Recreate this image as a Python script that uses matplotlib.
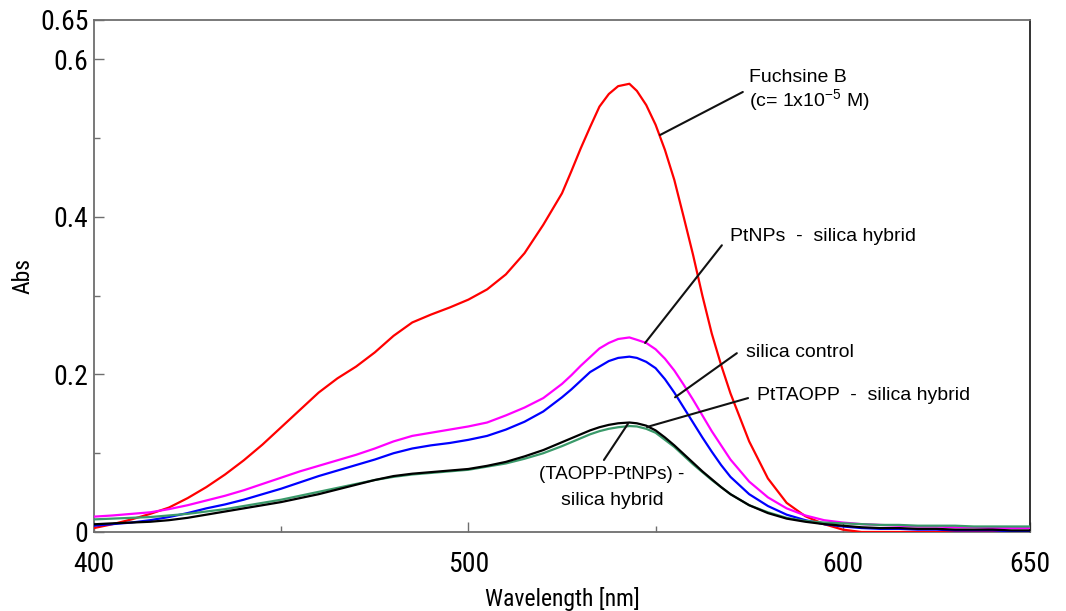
import matplotlib
matplotlib.use("Agg")
import matplotlib.pyplot as plt
from matplotlib import font_manager
from matplotlib.font_manager import FontProperties
from matplotlib.ticker import FixedLocator

# ---- data -------------------------------------------------------------
wavelength = [400, 405, 410, 415, 420, 425, 430, 435, 440, 445, 450, 455, 460,
              465, 470, 475, 480, 485, 490, 495, 500, 505, 510, 515, 520, 525,
              527.5, 530, 532.5, 535, 537.5, 540, 543, 545, 547.5, 550, 552.5,
              555, 557.5, 560, 562.5, 565, 567.5, 570,
              575, 580, 585, 590, 595, 600, 605, 610, 615, 620, 625, 630, 635,
              640, 645, 650]

fuchsine_b = [0.005, 0.010, 0.016, 0.023, 0.031, 0.043, 0.057, 0.073, 0.091,
              0.111, 0.133, 0.155, 0.177, 0.195, 0.210, 0.228, 0.249, 0.266,
              0.276, 0.285, 0.295, 0.308, 0.327, 0.354, 0.390, 0.430,
              0.458, 0.487, 0.514, 0.540, 0.556, 0.566, 0.569, 0.560, 0.542,
              0.517, 0.485, 0.447, 0.400, 0.352, 0.300, 0.252, 0.212, 0.176,
              0.115, 0.068, 0.037, 0.020, 0.010, 0.003, 0.000, 0.000, 0.000,
              0.000, 0.000, 0.000, 0.000, 0.000, 0.000, 0.000]

ptnps_silica = [0.0195, 0.021, 0.023, 0.025, 0.029, 0.034, 0.040, 0.046, 0.053,
                0.061, 0.069, 0.077, 0.084, 0.091, 0.098, 0.106, 0.115, 0.122,
                0.126, 0.130, 0.134, 0.139, 0.148, 0.158, 0.170, 0.188,
                0.199, 0.211, 0.222, 0.233, 0.240, 0.245, 0.247, 0.244, 0.240,
                0.232, 0.220, 0.205, 0.187, 0.168, 0.148, 0.128, 0.110, 0.092,
                0.064, 0.044, 0.030, 0.021, 0.015, 0.012, 0.010, 0.009, 0.008,
                0.007, 0.007, 0.006, 0.006, 0.005, 0.005, 0.005]

silica_control = [0.008, 0.010, 0.012, 0.015, 0.019, 0.024, 0.030, 0.035, 0.041,
                  0.048, 0.055, 0.063, 0.071, 0.078, 0.085, 0.092, 0.100, 0.106,
                  0.110, 0.113, 0.117, 0.122, 0.130, 0.140, 0.153, 0.171,
                  0.181, 0.192, 0.203, 0.210, 0.217, 0.221, 0.2226, 0.221, 0.216,
                  0.208, 0.194, 0.177, 0.158, 0.139, 0.120, 0.102, 0.085, 0.070,
                  0.048, 0.033, 0.022, 0.015, 0.010, 0.007, 0.005, 0.004, 0.004,
                  0.003, 0.003, 0.002, 0.002, 0.002, 0.001, 0.001]

pttaopp_silica = [0.0098, 0.011, 0.012, 0.013, 0.015, 0.018, 0.022, 0.026, 0.030,
                  0.034, 0.038, 0.043, 0.048, 0.054, 0.060, 0.066, 0.071, 0.074,
                  0.076, 0.078, 0.080, 0.084, 0.089, 0.096, 0.104, 0.114,
                  0.119, 0.124, 0.129, 0.133, 0.136, 0.138, 0.139, 0.138, 0.135,
                  0.129, 0.120, 0.110, 0.099, 0.088, 0.077, 0.067, 0.057, 0.048,
                  0.034, 0.024, 0.017, 0.013, 0.010, 0.008, 0.006, 0.005, 0.005,
                  0.004, 0.004, 0.003, 0.003, 0.003, 0.002, 0.002]

taopp_ptnps_silica = [0.016, 0.017, 0.018, 0.019, 0.021, 0.023, 0.026, 0.029,
                      0.033, 0.037, 0.041, 0.046, 0.051, 0.056, 0.061, 0.066,
                      0.070, 0.073, 0.075, 0.077, 0.079, 0.083, 0.087, 0.093,
                      0.100, 0.109,
                      0.114, 0.119, 0.124, 0.128, 0.131, 0.133, 0.1345, 0.134,
                      0.131, 0.126, 0.117, 0.108, 0.097, 0.086, 0.076, 0.066,
                      0.057, 0.048,
                      0.034, 0.025, 0.018, 0.014, 0.012, 0.011, 0.010, 0.009,
                      0.009, 0.008, 0.008, 0.008, 0.007, 0.007, 0.007, 0.007]

x_tick_values = [400, 500, 600, 650]
x_tick_labels = ["400", "500", "600", "650"]
x_minor_ticks = [450, 550]
y_tick_values = [0, 0.2, 0.4, 0.6, 0.65]
y_tick_labels = ["0", "0.2", "0.4", "0.6", "0.65"]
y_minor_ticks = [0.1, 0.3, 0.5]

# ---- fonts ------------------------------------------------------------
plt.rcParams["font.family"] = ["Liberation Sans", "DejaVu Sans"]
plt.rcParams["mathtext.fontset"] = "custom"
plt.rcParams["mathtext.rm"] = "Liberation Sans"


def find_condensed_font():
    """Return the file of an upright condensed sans face, if one is installed."""
    fonts = font_manager.fontManager.ttflist
    prefs = ["LiberationSansNarrow-Regular", "ArialNarrow", "RobotoCondensed-Regular",
             "DejaVuSansCondensed.ttf", "NotoSans-Condensed.ttf",
             "NotoSans-CondensedRegular", "OpenSans-CondensedRegular",
             "OpenSansCondensed-Regular", "Roboto_Condensed-Regular"]
    for key in prefs:
        for f in fonts:
            if key.lower() in f.fname.replace(" ", "").lower():
                return f.fname
    for f in fonts:
        low = (f.name + f.fname).lower()
        if (("narrow" in low or "condensed" in low) and f.style == "normal"
                and f.weight in (400, "normal", "regular")
                and "bold" not in f.fname.lower() and "italic" not in f.fname.lower()
                and "semi" not in f.fname.lower() and "extra" not in f.fname.lower()):
            return f.fname
    return None


cond_file = find_condensed_font()
if cond_file:
    tick_font = FontProperties(fname=cond_file, size=20)
    label_font = FontProperties(fname=cond_file, size=17)
else:
    tick_font = FontProperties(family="Liberation Sans", size=16.5)
    label_font = FontProperties(family="Liberation Sans", size=15)

# ---- figure -----------------------------------------------------------
fig = plt.figure(figsize=(10.66, 6.11), dpi=100)
ax = fig.add_axes([0.0882, 0.1293, 0.9662 - 0.0882, 0.9673 - 0.1293])

lw = 1.6
style = dict(lw=lw, zorder=3, solid_joinstyle="round", solid_capstyle="round")
ax.plot(wavelength, fuchsine_b, color="#ff0000", **style)
ax.plot(wavelength, ptnps_silica, color="#ff00ff", **style)
ax.plot(wavelength, silica_control, color="#0000ff", **style)
ax.plot(wavelength, taopp_ptnps_silica, color="#3a9a6a", **style)
ax.plot(wavelength, pttaopp_silica, color="#000000", **style)

ax.set_xlim(400, 650)
ax.set_ylim(0, 0.65)

ax.xaxis.set_major_locator(FixedLocator(x_tick_values))
ax.xaxis.set_minor_locator(FixedLocator(x_minor_ticks))
ax.yaxis.set_major_locator(FixedLocator(y_tick_values))
ax.yaxis.set_minor_locator(FixedLocator(y_minor_ticks))
ax.set_xticklabels(x_tick_labels, fontproperties=tick_font)
ax.set_yticklabels(y_tick_labels, fontproperties=tick_font)

frame_grey = "#6e6e6e"
ax.tick_params(axis="both", which="major", direction="in", length=7,
               width=1, color=frame_grey)
ax.tick_params(axis="both", which="minor", direction="in", length=4,
               width=1, color=frame_grey)
ax.tick_params(axis="x", which="major", pad=14)
ax.tick_params(axis="y", which="major", pad=4)
for side in ("left", "bottom", "top"):
    ax.spines[side].set_color(frame_grey)
    ax.spines[side].set_linewidth(1.3)
ax.spines["right"].set_color("#222222")
ax.spines["right"].set_linewidth(1.3)

ax.set_xlabel("Wavelength [nm]", fontproperties=label_font)
ax.set_ylabel("Abs", fontproperties=label_font)
ax.xaxis.set_label_coords(0.5, -0.107)
ax.yaxis.set_label_coords(-0.064, 0.5)

# ---- curve labels with leader lines -------------------------------------
label_size = 14
leader = dict(arrowstyle="-", color="#111111", lw=1.5, shrinkA=0, shrinkB=0)

ax.annotate("", xy=(551.2, 0.504), xytext=(573.3, 0.5586), arrowprops=leader)
ax.text(574.9, 0.5776, "Fuchsine B", fontsize=label_size, va="center", ha="left")
ax.text(574.9, 0.547, r"(c= 1x10$^{\mathregular{-5}}$ M)", fontsize=label_size,
        va="center", ha="left")

ax.annotate("", xy=(547.2, 0.240), xytext=(567.7, 0.364), arrowprops=leader)
ax.text(569.9, 0.3745, "PtNPs  -  silica hybrid", fontsize=label_size,
        va="center", ha="left")

ax.annotate("", xy=(555.2, 0.171), xytext=(571.7, 0.227), arrowprops=leader)
ax.text(574.1, 0.2285, "silica control", fontsize=label_size,
        va="center", ha="left")

ax.annotate("", xy=(547.7, 0.1333), xytext=(574.7, 0.170), arrowprops=leader)
ax.text(577.1, 0.1727, "PtTAOPP  -  silica hybrid", fontsize=label_size,
        va="center", ha="left")

ax.annotate("", xy=(542.7, 0.138), xytext=(536.2, 0.0914), arrowprops=leader)
ax.text(538.4, 0.0724, "(TAOPP-PtNPs) -", fontsize=13.5,
        va="center", ha="center")
ax.text(538.4, 0.0406, "silica hybrid", fontsize=label_size,
        va="center", ha="center")

fig.savefig("out.png", dpi=100)
